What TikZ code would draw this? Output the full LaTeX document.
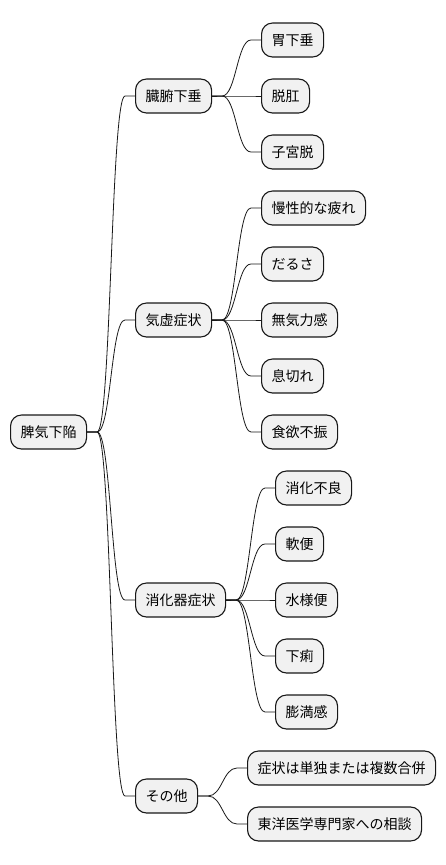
\documentclass[tikz,border=0pt]{standalone}
\usepackage{fontspec}
\newfontfamily\cjk{Noto Sans CJK JP}
\usepackage{tikz}
\usetikzlibrary{calc}
\definecolor{nodegray}{HTML}{F1F1F1}
\definecolor{edgeink}{HTML}{181818}

% connector from parent to child
\newcommand{\mmlink}[2]{%
  \draw[link] (#1.east) -- ++(10,0)
    .. controls ($(#1.east)+(24,0)$) and ($(#2.west)+(-24,0)$) ..
    ($(#2.west)+(-10,0)$) -- (#2.west);}

\begin{document}
\begin{tikzpicture}[x=1pt, y=1pt,
    topic/.style={draw=edgeink, line width=1.1pt, fill=nodegray, rounded corners=11pt,
      minimum height=34pt, inner xsep=10pt, anchor=west, font=\cjk\fontsize{14}{16}\selectfont},
    link/.style={draw=edgeink, line width=0.8pt}
  ]
    \useasboundingbox (0,0) rectangle (446,-865);

    % Root
    \node[topic] (root) at (10,-432) {脾気下陥};

    % First level
    \node[topic] (organ) at (135,-96) {臓腑下垂};
    \node[topic] (qi) at (135,-320) {気虚症状};
    \node[topic] (digest) at (135,-600) {消化器症状};
    \node[topic] (other) at (135,-796) {その他};

    % Prolapse
    \node[topic] (stomach) at (261,-40) {胃下垂};
    \node[topic] (anus) at (261,-96) {脱肛};
    \node[topic] (uterus) at (261,-152) {子宮脱};

    % Qi deficiency
    \node[topic] (fatigue) at (261,-208) {慢性的な疲れ};
    \node[topic] (dull) at (261,-264) {だるさ};
    \node[topic] (apathy) at (261,-320) {無気力感};
    \node[topic] (breath) at (261,-376) {息切れ};
    \node[topic] (appetite) at (261,-432) {食欲不振};

    % Digestive
    \node[topic] (indig) at (275,-488) {消化不良};
    \node[topic] (soft) at (275,-544) {軟便};
    \node[topic] (watery) at (275,-600) {水様便};
    \node[topic] (diarr) at (275,-656) {下痢};
    \node[topic] (bloat) at (275,-712) {膨満感};

    % Other
    \node[topic] (combo) at (247,-768) {症状は単独または複数合併};
    \node[topic] (consult) at (247,-824) {東洋医学専門家への相談};

    % Connectors
    \mmlink{root}{organ}
    \mmlink{root}{qi}
    \mmlink{root}{digest}
    \mmlink{root}{other}
    \mmlink{organ}{stomach}
    \mmlink{organ}{anus}
    \mmlink{organ}{uterus}
    \mmlink{qi}{fatigue}
    \mmlink{qi}{dull}
    \mmlink{qi}{apathy}
    \mmlink{qi}{breath}
    \mmlink{qi}{appetite}
    \mmlink{digest}{indig}
    \mmlink{digest}{soft}
    \mmlink{digest}{watery}
    \mmlink{digest}{diarr}
    \mmlink{digest}{bloat}
    \mmlink{other}{combo}
    \mmlink{other}{consult}

\end{tikzpicture}
\end{document}
